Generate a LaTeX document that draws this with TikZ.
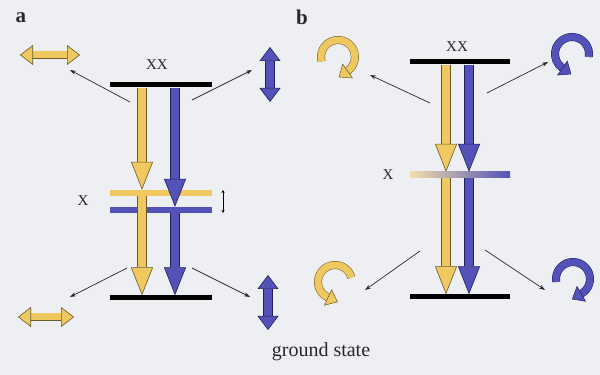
\documentclass[tikz,border=0pt]{standalone}
\usepackage{fontspec}
\setmainfont{Liberation Serif}
\usetikzlibrary{arrows.meta, positioning, calc}
\definecolor{ygold}{RGB}{240,200,96}
\definecolor{ydark}{RGB}{105,88,40}
\definecolor{bblue}{RGB}{82,82,184}
\definecolor{bdark}{RGB}{32,32,96}
\definecolor{mauve}{RGB}{182,142,170}
\definecolor{peach}{RGB}{244,222,170}
\definecolor{paper}{RGB}{237,239,242}
\definecolor{ink}{RGB}{40,40,40}

\begin{document}
\begin{tikzpicture}[
x=1pt, y=1pt,
level/.style={fill=black, minimum width=102pt, minimum height=5pt, inner sep=0pt},
xlevel/.style={minimum width=102pt, minimum height=6pt, inner sep=0pt},
lbl/.style={text=ink, font=\fontsize{15}{15}\selectfont, inner sep=0pt},
panel/.style={text=ink, font=\bfseries\fontsize{21}{21}\selectfont, inner sep=0pt},
yarrow/.style={draw=ydark, line width=0.6pt, double=ygold, double distance=8pt, -{Triangle[length=28pt, width=22pt, fill=ygold, line width=0.6pt]}},
barrow/.style={draw=bdark, line width=0.6pt, double=bblue, double distance=8pt, -{Triangle[length=28pt, width=22pt, fill=bblue, line width=0.6pt]}},
yboth/.style={draw=ydark, line width=0.6pt, double=ygold, double distance=7pt, {Triangle[length=13pt, width=20pt, fill=ygold, line width=0.6pt]}-{Triangle[length=13pt, width=20pt, fill=ygold, line width=0.6pt]}},
bboth/.style={draw=bdark, line width=0.6pt, double=bblue, double distance=8pt, {Triangle[length=14pt, width=21pt, fill=bblue, line width=0.6pt]}-{Triangle[length=14pt, width=21pt, fill=bblue, line width=0.6pt]}},
ycurl/.style={draw=ydark, line width=0.5pt, double=ygold, double distance=7pt, -{Triangle[length=11pt, width=18pt, fill=ygold, line width=0.5pt]}},
bcurl/.style={draw=bdark, line width=0.5pt, double=bblue, double distance=7pt, -{Triangle[length=11pt, width=18pt, fill=bblue, line width=0.5pt]}},
emit/.style={draw=ink, line width=0.7pt, -{Stealth[length=6pt, width=4pt]}},
split/.style={draw=black, line width=0.6pt, {Stealth[length=3pt, width=3pt]}-{Stealth[length=3pt, width=3pt]}, shorten <=-3pt, shorten >=-3pt}
]
\useasboundingbox (0,0) rectangle (600,375);
\fill[paper] (0,0) rectangle (600,375);

\node[panel] (pa) at (21,357) {a};
\node[panel] (pb) at (302,358) {b};

\node[level] (aTop) at (161,290) {};
\node[level] (aGnd) at (161,77) {};
\node[xlevel, fill=ygold] (aXy) at (161,182) {};
\node[xlevel, fill=bblue] (aXb) at (161,165) {};
\node[lbl] (aXX) at (157,310) {XX};
\node[lbl] (aX) at (83,174) {X};

\coordinate (ay) at (142,0);
\coordinate (ab) at (175,0);
\coordinate (asplit) at (223,0);
\draw[yarrow] (aTop.south -| ay) -- (aXy.north -| ay);
\draw[barrow] (aTop.south -| ab) -- (aXb.north -| ab);
\draw[yarrow] (aXy.south -| ay) -- (aGnd.north -| ay);
\draw[barrow] (aXb.south -| ab) -- (aGnd.north -| ab);
\draw[split] (aXy -| asplit) -- (aXb -| asplit);

\draw[yboth] (20,320) -- (80,320);
\draw[yboth] (18,58) -- (74,58);
\draw[bboth] (270,273) -- (270,328);
\draw[bboth] (268,45) -- (268,100);

\coordinate (a1) at (130,273); \coordinate (a1e) at (70,305);
\coordinate (a2) at (192,275); \coordinate (a2e) at (252,305);
\coordinate (a3) at (127,107); \coordinate (a3e) at (70,78);
\coordinate (a4) at (192,107); \coordinate (a4e) at (250,78);
\draw[emit] (a1) -- (a1e);
\draw[emit] (a2) -- (a2e);
\draw[emit] (a3) -- (a3e);
\draw[emit] (a4) -- (a4e);

\node[level, minimum width=100pt] (bTop) at (460,313) {};
\node[level, minimum width=100pt] (bGnd) at (460,78) {};
\node[xlevel, minimum width=100pt, left color=peach, middle color=mauve, right color=bblue] (bX) at (460,200) {};
\node[lbl] (bXX) at (457,328) {XX};
\node[lbl] (bXl) at (388,200) {X};

\coordinate (by) at (446,0);
\coordinate (bb) at (469,0);
\draw[yarrow] (bTop.south -| by) -- (bX.north -| by);
\draw[barrow] (bTop.south -| bb) -- (bX.north -| bb);
\draw[yarrow] (bX.south -| by) -- (bGnd.north -| by);
\draw[barrow] (bX.south -| bb) -- (bGnd.north -| bb);

\draw[ycurl] (338,318) ++(195:17) arc[start angle=195, end angle=-55, radius=17] -- ++(-145:11);
\draw[bcurl] (572,321) ++(-10:17) arc[start angle=-10, end angle=235, radius=17] -- ++(325:11);
\draw[ycurl] (335,93) ++(15:17) arc[start angle=15, end angle=245, radius=17] -- ++(335:11);
\draw[bcurl] (573,96) ++(190:17) arc[start angle=190, end angle=-60, radius=17] -- ++(-150:11);

\coordinate (b1) at (430,272); \coordinate (b1e) at (370,300);
\coordinate (b2) at (487,282); \coordinate (b2e) at (548,313);
\coordinate (b3) at (420,124); \coordinate (b3e) at (365,85);
\coordinate (b4) at (485,125); \coordinate (b4e) at (545,85);
\draw[emit] (b1) -- (b1e);
\draw[emit] (b2) -- (b2e);
\draw[emit] (b3) -- (b3e);
\draw[emit] (b4) -- (b4e);

\node[text=ink, font=\fontsize{20}{24}\selectfont, anchor=base, inner sep=0pt] (gs) at (321,18) {ground state};
\end{tikzpicture}
\end{document}
